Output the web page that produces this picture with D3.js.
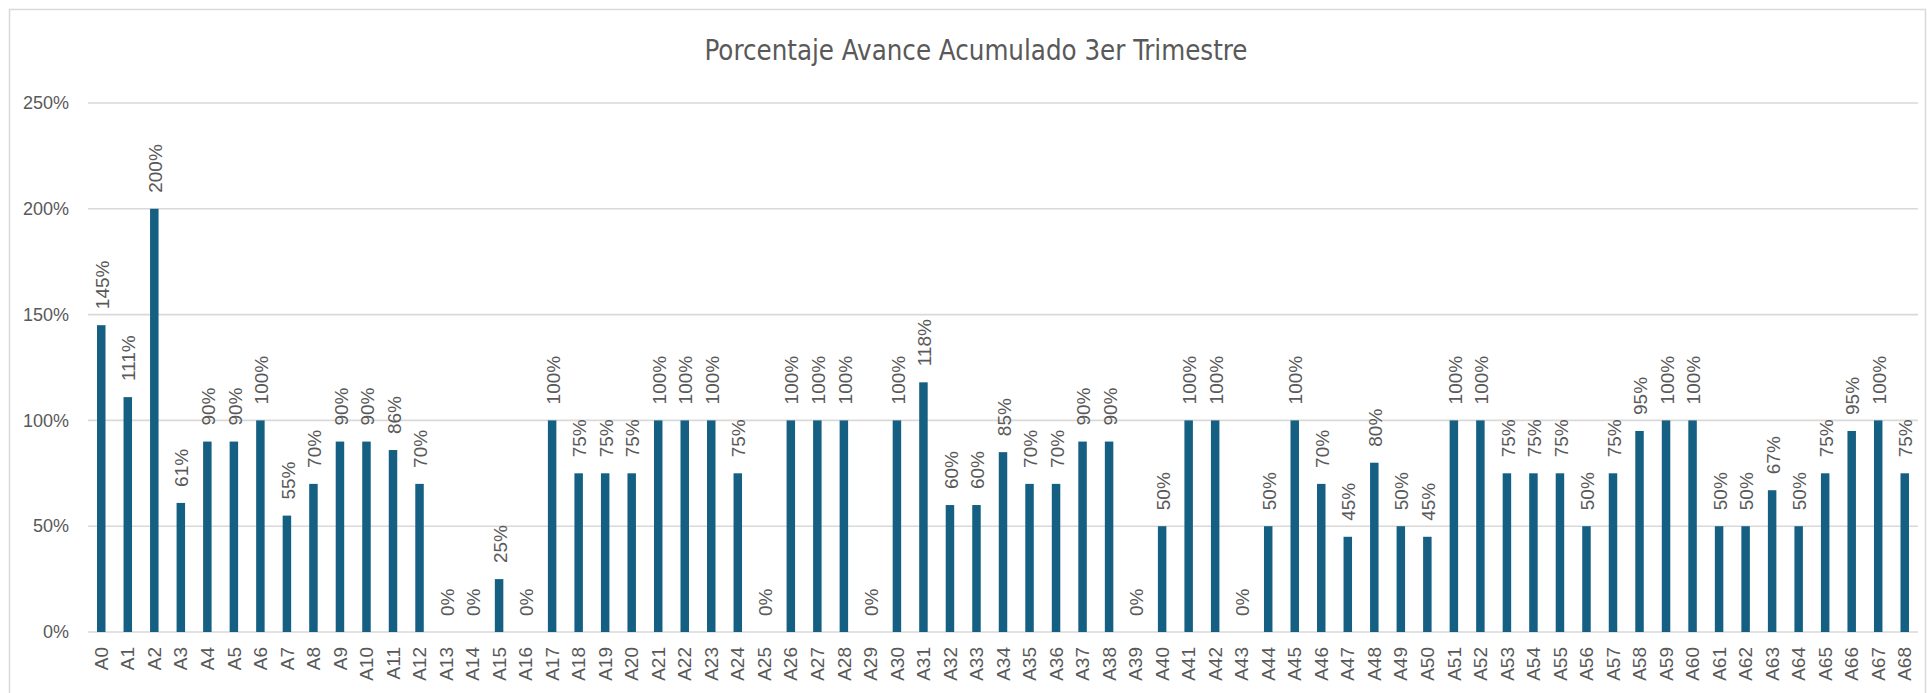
<!DOCTYPE html>
<html>
<head>
<meta charset="utf-8">
<script src="https://cdn.jsdelivr.net/npm/d3@7"></script>
<style>
  body { margin: 0; background: #fff; }
  text { font-family: "Liberation Sans", Arial, sans-serif; fill: #595959; }
</style>
</head>
<body>
<svg id="content"></svg>
<script>
var categories = [];
for (var i = 0; i <= 68; i++) { categories.push("A" + i); }

var avance = [
  1.45, 1.11, 2.00, 0.61, 0.90, 0.90, 1.00, 0.55, 0.70, 0.90,
  0.90, 0.86, 0.70, 0.00, 0.00, 0.25, 0.00, 1.00, 0.75, 0.75,
  0.75, 1.00, 1.00, 1.00, 0.75, 0.00, 1.00, 1.00, 1.00, 0.00,
  1.00, 1.18, 0.60, 0.60, 0.85, 0.70, 0.70, 0.90, 0.90, 0.00,
  0.50, 1.00, 1.00, 0.00, 0.50, 1.00, 0.70, 0.45, 0.80, 0.50,
  0.45, 1.00, 1.00, 0.75, 0.75, 0.75, 0.50, 0.75, 0.95, 1.00,
  1.00, 0.50, 0.50, 0.67, 0.50, 0.75, 0.95, 1.00, 0.75
];

var y_ticks = [0, 0.5, 1, 1.5, 2, 2.5];
var title = "Porcentaje Avance Acumulado 3er Trimestre";

var width = 1927, height = 693;
var margin = { top: 103, right: 9, bottom: 61, left: 88 };

var svg = d3.select("#content")
  .attr("width", width)
  .attr("height", height);

// chart area border
svg.append("rect")
  .attr("x", 9.5).attr("y", 9.5)
  .attr("width", 1916).attr("height", 690)
  .attr("fill", "none")
  .attr("stroke", "#d9d9d9")
  .attr("stroke-width", 1.5);

var x = d3.scaleBand()
  .domain(categories)
  .range([margin.left, width - margin.right])
  .paddingInner(0.68)
  .paddingOuter(0.34);

var y = d3.scaleLinear()
  .domain([0, 2.5])
  .range([height - margin.bottom, margin.top]);

var pct = d3.format(".0%");

// grid lines
svg.append("g")
  .selectAll("line")
  .data(y_ticks)
  .enter()
  .append("line")
  .attr("x1", margin.left)
  .attr("x2", width - margin.right)
  .attr("y1", function(d){ return y(d) ; })
  .attr("y2", function(d){ return y(d) ; })
  .attr("stroke", "#d9d9d9")
  .attr("stroke-width", 1.6);

// y axis labels
var yAxis = svg.append("g")
  .attr("transform", "translate(" + (margin.left - 19) + ",0)")
  .call(d3.axisLeft(y).tickValues(y_ticks).tickFormat(pct).tickSize(0));
yAxis.select(".domain").remove();
yAxis.selectAll("text")
  .attr("x", 0)
  .style("font-size", "18px")
  .style("fill", "#595959");

// bars
svg.append("g")
  .selectAll("rect")
  .data(avance)
  .enter()
  .append("rect")
  .attr("x", function(d, i){ return x(categories[i]) ; })
  .attr("y", function(d){ return y(d) ; })
  .attr("width", x.bandwidth())
  .attr("height", function(d){ return y(0) - y(d) ; })
  .attr("fill", "#156082");

// data labels
svg.append("g")
  .selectAll("text")
  .data(avance)
  .enter()
  .append("text")
  .attr("transform", function(d, i){
    var cx = x(categories[i]) + x.bandwidth() / 2 + 1;
    return "translate(" + cx + "," + (y(d) - 16) + ") rotate(-90)";
  })
  .attr("dy", "0.35em")
  .attr("text-anchor", "start")
  .style("font-size", "19px")
  .text(function(d){ return pct(d) ; });

// x axis labels
var xAxis = svg.append("g")
  .attr("transform", "translate(0," + y(0) + ")")
  .call(d3.axisBottom(x).tickSize(0));
xAxis.select(".domain").remove();
xAxis.selectAll("text")
  .attr("transform", "translate(0,15) rotate(-90)")
  .attr("x", 0).attr("y", 0)
  .attr("dy", "0.35em")
  .attr("text-anchor", "end")
  .style("font-size", "19px")
  .style("fill", "#595959");

// title (narrow face in the original, so squeeze it to the same width)
svg.append("text")
  .attr("x", 976)
  .attr("y", 60)
  .attr("text-anchor", "middle")
  .attr("textLength", 543)
  .attr("lengthAdjust", "spacingAndGlyphs")
  .style("font-family", "'Liberation Sans Narrow', 'DejaVu Sans Condensed', sans-serif")
  .style("font-size", "29px")
  .text(title);
</script>
</body>
</html>
